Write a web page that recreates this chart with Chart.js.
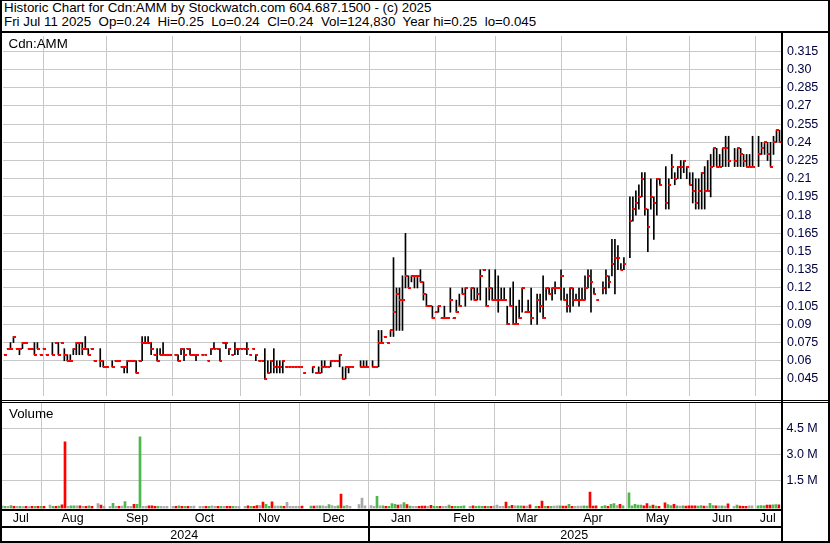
<!DOCTYPE html>
<html><head><meta charset="utf-8">
<script src="https://cdn.jsdelivr.net/npm/chart.js@4/dist/chart.umd.min.js"></script>
<style>
html,body{margin:0;padding:0;background:#fff;}
#wrap{position:relative;width:830px;height:543px;overflow:hidden;background:#fff;font-family:"Liberation Sans",Arial,sans-serif;}
.ln{position:absolute;background:#000;}
#hdr{position:absolute;left:4px;top:1px;font-size:13.33px;line-height:14px;white-space:pre;color:#000;}
.lbl{position:absolute;font-size:13.33px;line-height:14px;color:#000;white-space:pre;}
canvas{position:absolute;left:0;}
</style></head>
<body><div id="wrap">
<canvas id="cp" width="830" height="366" style="top:33px"></canvas>
<canvas id="cv" width="830" height="140" style="top:403px"></canvas>
<div id="hdr">Historic Chart for Cdn:AMM by Stockwatch.com 604.687.1500 - (c) 2025
Fri Jul 11 2025  Op=0.24  Hi=0.25  Lo=0.24  Cl=0.24  Vol=124,830  Year hi=0.25  lo=0.045</div>
<div class="lbl" style="left:8.5px;top:36.5px">Cdn:AMM</div>
<div class="lbl" style="left:9px;top:407px">Volume</div>
<div class="ln" style="left:0;top:0;width:830px;height:1px"></div>
<div class="ln" style="left:0;top:0;width:2px;height:543px"></div>
<div class="ln" style="left:828px;top:0;width:2px;height:543px"></div>
<div class="ln" style="left:0;top:541px;width:830px;height:2px"></div>
<div class="ln" style="left:0;top:31px;width:830px;height:2px"></div>
<div class="ln" style="left:0;top:399.5px;width:830px;height:1px"></div>
<div class="ln" style="left:0;top:401.5px;width:830px;height:1px"></div>
<div class="ln" style="left:781px;top:33px;width:2px;height:510px"></div>
<div class="ln" style="left:0;top:508.5px;width:782px;height:2px"></div>
<div class="ln" style="left:0;top:526px;width:782px;height:2px"></div>
<div class="ln" style="left:368px;top:509px;width:1.5px;height:33px"></div>
</div>
<script>
// ---- categories: trading weekdays, Jul 15 2024 .. Jul 11 2025 ----
const tradeDates = (function(){const o=[];const d=new Date(Date.UTC(2024,6,15));while(o.length<260){const w=d.getUTCDay();if(w!==0&&w!==6)o.push(d.toISOString().slice(0,10));d.setUTCDate(d.getUTCDate()+1);}return o;})();
const monthStarts = ['2024-08-01','2024-09-01','2024-10-01','2024-11-01','2024-12-01','2025-01-01','2025-02-01','2025-03-01','2025-04-01','2025-05-01','2025-06-01','2025-07-01'];
const monthLabels = ['Jul','Aug','Sep','Oct','Nov','Dec','Jan','Feb','Mar','Apr','May','Jun','Jul'];
const yearLabels = ['2024','2025'];
const priceTickLabels = ['0.045','0.06','0.075','0.09','0.105','0.12','0.135','0.15','0.165','0.18','0.195','0.21','0.225','0.24','0.255','0.27','0.285','0.30','0.315'];
const volTickValues = [1.5,3.0,4.5];
const volTickLabels = ['1.5 M','3.0 M','4.5 M'];

// ---- daily high / low / close (null = no trade) ----
const hi = [
.065,.07,.075,.08,.07,.07,.075,.075,.07,.07,
.075,.075,.065,.07,.065,null,.075,.075,.075,.075,
.07,.065,.065,.07,.075,.075,.075,.08,.07,.07,
.06,null,.07,.06,.055,null,.06,.06,.06,.055,
.055,.06,.06,.06,.06,.06,.08,.08,.08,.075,
.065,.07,.07,.075,.065,.065,null,.065,.065,.07,
.07,.07,.07,.065,.065,null,.065,.065,.06,.07,
.075,.07,.07,.075,.075,.07,.065,.075,.07,.07,
.07,.075,.065,.07,.065,.06,.06,.07,.06,.06,
.07,.06,.06,.06,.055,.055,.055,.055,.055,.055,
.05,null,null,.055,.05,.055,.06,.06,.055,.06,
.06,.06,.065,.055,.055,.055,.055,null,null,.06,
.06,.06,null,.06,.055,.085,.085,.08,.075,.085,
.145,.12,.12,.13,.165,.13,.13,.13,.13,.135,
.125,.115,.105,.105,.10,.105,.095,.105,.095,.12,
.095,.11,.115,.12,.12,null,.12,.12,.12,.135,
.135,.12,.135,.12,.135,.13,.12,.12,.105,.12,
.125,.105,.11,.12,.10,.11,.12,null,.115,.115,
.13,.12,.12,.12,.125,.12,.135,.12,.115,.12,
.12,.115,.12,.12,.13,.135,.135,.12,.11,null,
.125,.135,.13,.16,.16,.155,.14,.145,null,.195,
.195,.20,.205,.215,.215,.185,.21,.195,.21,.21,
null,.22,.21,.23,.215,.22,.225,.225,.22,.215,
.215,.21,.21,.215,.22,.225,.23,.235,.235,.23,
.235,.245,.245,null,.235,.235,.235,.23,.23,.23,
.245,null,.245,.24,.24,.24,.24,.245,.25,.25];
const lo = [
.065,.07,.07,.075,.07,.065,.07,.075,.07,.07,
.065,.07,.065,.07,.065,null,.065,.075,.065,.075,
.06,.06,.06,.065,.065,.065,.065,.07,.065,.07,
.06,null,.055,.055,.055,null,.055,.06,.06,.055,
.05,.05,.06,.06,.05,.06,.06,.075,.075,.065,
.065,.06,.065,.065,.065,.065,null,.065,.06,.065,
.06,.07,.065,.065,.06,null,.065,.065,.06,.065,
.07,.07,.06,.075,.07,.065,.065,.065,.065,.07,
.07,.065,.065,.07,.06,.06,.06,.045,.05,.05,
.05,.05,.05,.05,.055,.055,.055,.055,.055,.055,
.05,null,null,.05,.05,.05,.05,.055,.055,.055,
.06,.06,.055,.045,.045,.05,.055,null,null,.055,
.055,.055,null,.055,.055,.055,.075,.08,.075,.08,
.08,.085,.085,.085,.12,.12,.125,.12,.12,.125,
.11,.105,.105,.095,.10,.10,.095,.095,.095,.10,
.095,.10,.105,.115,.105,null,.11,.11,.11,.11,
.135,.105,.11,.11,.11,.10,.11,.11,.09,.105,
.09,.09,.095,.10,.10,.10,.09,null,.09,.10,
.095,.11,.115,.11,.115,.12,.11,.11,.10,.10,
.105,.11,.105,.11,.11,.12,.10,.115,.11,null,
.115,.115,.12,.13,.115,.135,.135,.135,null,.145,
.175,.18,.185,.195,.18,.15,.185,.16,.18,.205,
null,.185,.185,.21,.205,.21,.21,.215,.21,.205,
.19,.185,.185,.185,.185,.20,.195,.22,.22,.22,
.22,.22,.22,null,.22,.22,.22,.22,.22,.22,
.22,null,.22,.23,.23,.225,.22,.23,.24,.24];
const cl = [
.065,.07,.07,.08,.07,.07,.075,.075,.07,.07,
.065,.07,.065,.07,.065,null,.065,.075,.065,.075,
.065,.06,.06,.07,.075,.075,.07,.07,.065,.07,
.06,null,.06,.055,.055,null,.055,.06,.06,.055,
.055,.06,.06,.06,.05,.06,.075,.075,.075,.07,
.065,.06,.065,.065,.065,.065,null,.065,.06,.07,
.065,.07,.065,.065,.065,null,.065,.065,.06,.07,
.07,.07,.06,.075,.075,.07,.065,.07,.07,.07,
.07,.07,.065,.07,.065,.06,.06,.045,.05,.06,
.055,.055,.055,.06,.055,.055,.055,.055,.055,.055,
.05,null,null,.055,.05,.05,.055,.055,.055,.06,
.06,.06,.065,.045,.055,.055,.055,null,null,.055,
.055,.055,null,.055,.055,.075,.075,.08,.075,.085,
.10,.115,.11,.11,.13,.12,.13,.13,.13,.125,
.115,.105,.105,.095,.10,.105,.095,.095,.095,.11,
.095,.10,.105,.115,.12,null,.12,.11,.115,.13,
.135,.105,.12,.11,.11,.11,.11,.11,.09,.105,
.09,.09,.095,.12,.10,.10,.095,null,.11,.105,
.095,.12,.115,.12,.12,.12,.13,.11,.105,.12,
.11,.11,.11,.11,.12,.13,.125,.115,.11,null,
.12,.13,.125,.14,.145,.145,.135,.14,null,.175,
.185,.19,.195,.21,.185,.17,.195,.19,.21,.205,
null,.19,.205,.22,.21,.22,.22,.225,.22,.205,
.20,.19,.20,.215,.20,.20,.22,.235,.22,.22,
.235,.235,.225,null,.225,.235,.23,.225,.22,.22,
.22,null,.23,.235,.24,.23,.22,.24,.25,.24];
// ---- daily volume, thousands of shares ----
const vol = [
60,40,30,80,30,40,30,20,30,20,
40,30,40,30,40,0,100,40,30,50,
120,3730,40,70,70,60,60,30,40,60,
30,0,190,110,40,0,30,200,30,40,
50,310,40,40,150,150,4020,30,30,60,
70,30,30,30,20,30,0,30,30,60,
30,40,30,30,50,0,30,30,40,30,
60,30,30,30,30,30,30,30,30,30,
0,30,60,30,40,80,80,280,150,30,
290,50,50,50,40,260,30,30,30,30,
50,0,0,50,50,70,70,70,40,130,
80,40,60,730,50,90,40,0,0,130,
500,60,0,80,30,600,70,60,40,40,
190,150,100,140,250,130,50,40,40,40,
50,50,40,90,40,40,40,30,40,100,
40,40,40,40,60,0,40,60,40,50,
40,40,40,40,50,100,40,40,280,40,
90,70,70,70,50,50,120,0,40,40,
340,40,40,40,50,60,60,50,50,150,
40,40,50,50,60,50,850,50,60,0,
40,80,40,150,190,80,150,60,0,810,
60,150,100,100,60,190,50,100,50,30,
0,230,140,80,150,60,50,60,50,60,
60,60,50,80,50,50,200,80,60,60,
60,50,180,0,40,110,50,40,40,60,
60,0,70,80,60,110,100,120,130,125];

// ---- derived layout helpers ----
const FONT = '"Liberation Sans", Arial, sans-serif';
const GRID = '#c8c8c8';
const N = tradeDates.length;
const XMIN = -0.5, XMAX = N - 0.5;
const gridIdx = monthStarts.map(function(ms){let k=-1;tradeDates.forEach(function(d,i){if(d<=ms)k=i;});return k;});
const mBounds = [XMIN].concat(gridIdx, [XMAX]);
const monthMid = monthLabels.map(function(_,k){return (mBounds[k]+mBounds[k+1])/2;});
const janIdx = gridIdx[monthStarts.indexOf('2025-01-01')];
const yBounds = [XMIN, janIdx, XMAX];
const yearMid = yearLabels.map(function(_,k){return (yBounds[k]+yBounds[k+1])/2;});
const PMIN = 0.03098, PMAX = 0.3276;
const VMIN = -0.09, VMAX = 5.95;

const volColors = []; let prev = null;
for (let i=0;i<N;i++){ let c='#a8a8a8'; if(cl[i]!=null){ if(prev!=null){ if(cl[i]>prev+1e-9)c='#4cb84c'; else if(cl[i]<prev-1e-9)c='#ff0000'; } prev=cl[i]; } volColors.push(c); }

const tickImg = document.createElement('canvas'); tickImg.width=5; tickImg.height=2;
(function(){const t=tickImg.getContext('2d');t.fillStyle='#ff0000';t.fillRect(2,0,3,2);})();

Chart.defaults.font.family = FONT;
const common = {responsive:false, animation:false, events:[], plugins:{legend:{display:false},tooltip:{enabled:false}}};
function noPad(s){s.paddingLeft=0;s.paddingRight=0;s.paddingTop=0;s.paddingBottom=0;}

function gridAxis(){return {type:'linear',position:'bottom',min:XMIN,max:XMAX,weight:0,offset:false,
  afterBuildTicks:function(s){s.ticks=gridIdx.map(function(v){return {value:v};});},
  ticks:{display:false},grid:{color:GRID,lineWidth:1,drawTicks:false,offset:false},border:{display:false},
  afterFit:function(s){s.height=0;noPad(s);}};}
function labelAxis(weight, mids, labels, h, pad){return {type:'linear',position:'bottom',min:XMIN,max:XMAX,weight:weight,offset:false,
  afterBuildTicks:function(s){s.ticks=mids.map(function(v){return {value:v};});},
  ticks:{callback:function(v,i){return labels[i];},font:{size:12.5},color:'#000',padding:pad,autoSkip:false,maxRotation:0,minRotation:0},
  grid:{display:false,drawTicks:false,offset:false},border:{display:false},
  afterFit:function(s){s.height=h;noPad(s);}};}

new Chart(document.getElementById('cp'), {
  type:'bar',
  data:{labels:tradeDates, datasets:[
    {type:'line', data:cl, showLine:false, pointStyle:tickImg, pointRadius:2, pointHoverRadius:2, order:0},
    {type:'bar', data:hi.map(function(h,i){return h==null?null:[lo[i],h];}), backgroundColor:'#000', borderWidth:0, barThickness:1, order:1}
  ]},
  options:Object.assign({}, common, {
    layout:{padding:{left:1,right:0,top:0,bottom:0}},
    scales:{
      x:{type:'category',display:false,offset:true},
      xg:gridAxis(),
      y:{position:'right',min:PMIN,max:PMAX,
        afterBuildTicks:function(s){s.ticks=priceTickLabels.map(function(t){return {value:parseFloat(t)};});},
        ticks:{callback:function(v,i){return priceTickLabels[i];},font:{size:12.5},color:'#000040',padding:6,autoSkip:false},
        grid:{color:GRID,lineWidth:1,drawTicks:false},border:{display:false},
        afterFit:function(s){s.width=49;noPad(s);}}
    }
  })
});

new Chart(document.getElementById('cv'), {
  type:'bar',
  data:{labels:tradeDates, datasets:[
    {data:vol.map(function(v){return v?[VMIN, v/1000]:null;}), backgroundColor:volColors, borderWidth:0, barThickness:2}
  ]},
  options:Object.assign({}, common, {
    layout:{padding:{left:0.5,right:0,top:0,bottom:2}},
    scales:{
      x:{type:'category',display:false,offset:true},
      xg:gridAxis(),
      xm:labelAxis(1, monthMid, monthLabels, 18.5, 3),
      xy:labelAxis(2, yearMid, yearLabels, 14, 1),
      y:{position:'right',min:VMIN,max:VMAX,
        afterBuildTicks:function(s){s.ticks=volTickValues.map(function(v){return {value:v};});},
        ticks:{callback:function(v,i){return volTickLabels[i];},font:{size:12.5},color:'#000040',padding:6,autoSkip:false},
        grid:{color:GRID,lineWidth:1,drawTicks:false},border:{display:false},
        afterFit:function(s){s.width=49.5;noPad(s);}}
    }
  })
});
</script>
</body></html>
